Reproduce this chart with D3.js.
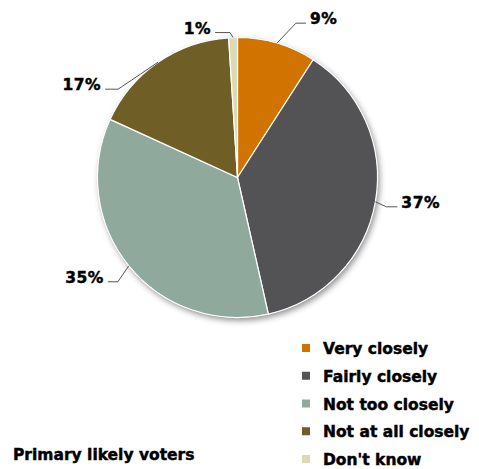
<!DOCTYPE html>
<html>
<head>
<meta charset="utf-8">
<script src="https://cdn.jsdelivr.net/npm/d3@7"></script>
<style>
  html, body { margin: 0; padding: 0; background: #fff; }
  svg { display: block; }
  text { font-family: "DejaVu Sans", sans-serif; font-weight: bold; fill: #000; stroke: #000; stroke-width: 0.45px; }
</style>
</head>
<body>
<script>
// How closely primary likely voters are following the campaign
const categories = ["Very closely", "Fairly closely", "Not too closely", "Not at all closely", "Don't know"];
const values = [9, 37, 35, 17, 1];
const colors = ["#d07300", "#535255", "#8faa9c", "#6f5f26", "#dcd9b6"];
const caption = "Primary likely voters";

const W = 479, H = 469;
const cx = 237.5, cy = 177.5, R = 140;

// Leader-line routing per slice: elbow offset from the rim anchor and run of the horizontal tail
const leaders = [
  { elbow: [19, -20], tail: 10 },
  { elbow: [11, 5], tail: 11 },
  { elbow: [-11, 16], tail: -10 },
  { elbow: [-40, 27], tail: -13 },
  { elbow: [-3, -5], tail: -15 }
];

const svg = d3.select("body").append("svg").attr("width", W).attr("height", H);

const defs = svg.append("defs");
const shadow = defs.append("filter").attr("id", "shadow")
  .attr("x", "-20%").attr("y", "-20%").attr("width", "140%").attr("height", "140%");
shadow.append("feDropShadow")
  .attr("dx", 2).attr("dy", 3).attr("stdDeviation", 3)
  .attr("flood-color", "#000").attr("flood-opacity", 0.45);

const data = categories.map((c, i) => ({ name: c, value: values[i], color: colors[i], leader: leaders[i] }));

const pie = d3.pie().value(d => d.value).sort(null);
const arcs = pie(data);
const arc = d3.arc().innerRadius(0).outerRadius(R);

const g = svg.append("g").attr("transform", `translate(${cx},${cy})`);

// Base disc carrying the shadow
g.append("circle").attr("r", R).attr("fill", "#fff").attr("filter", "url(#shadow)");

g.selectAll("path.slice")
  .data(arcs)
  .join("path")
  .attr("class", "slice")
  .attr("d", arc)
  .attr("fill", d => d.data.color)
  .attr("stroke", "#fff")
  .attr("stroke-width", 1.2);

// Percentage labels with elbowed leader lines
arcs.forEach(a => {
  const mid = (a.startAngle + a.endAngle) / 2;
  const ax = R * Math.sin(mid), ay = -R * Math.cos(mid);
  const ex = ax + a.data.leader.elbow[0], ey = ay + a.data.leader.elbow[1];
  const tx = ex + a.data.leader.tail;
  g.append("polyline")
    .attr("points", [[ax, ay], [ex, ey], [tx, ey]].map(p => p.join(",")).join(" "))
    .attr("fill", "none")
    .attr("stroke", "#555")
    .attr("stroke-width", 1);
  const right = a.data.leader.tail > 0;
  g.append("text")
    .attr("x", tx + (right ? 4 : -4))
    .attr("y", ey + 1)
    .attr("text-anchor", right ? "start" : "end")
    .attr("font-size", 15.5)
    .attr("letter-spacing", 0.5)
    .text(a.data.value + "%");
});

// Legend
const legend = svg.append("g").attr("transform", "translate(302,348)");
const rows = legend.selectAll("g").data(data).join("g")
  .attr("transform", (d, i) => `translate(0,${i * 27.75})`);
rows.append("rect").attr("x", 0).attr("y", -4).attr("width", 8).attr("height", 8).attr("fill", d => d.color);
rows.append("text").attr("x", 21).attr("y", 6).attr("font-size", 15.5).text(d => d.name);

// Caption
svg.append("text").attr("x", 13).attr("y", 460).attr("font-size", 15.5).text(caption);
</script>
</body>
</html>
